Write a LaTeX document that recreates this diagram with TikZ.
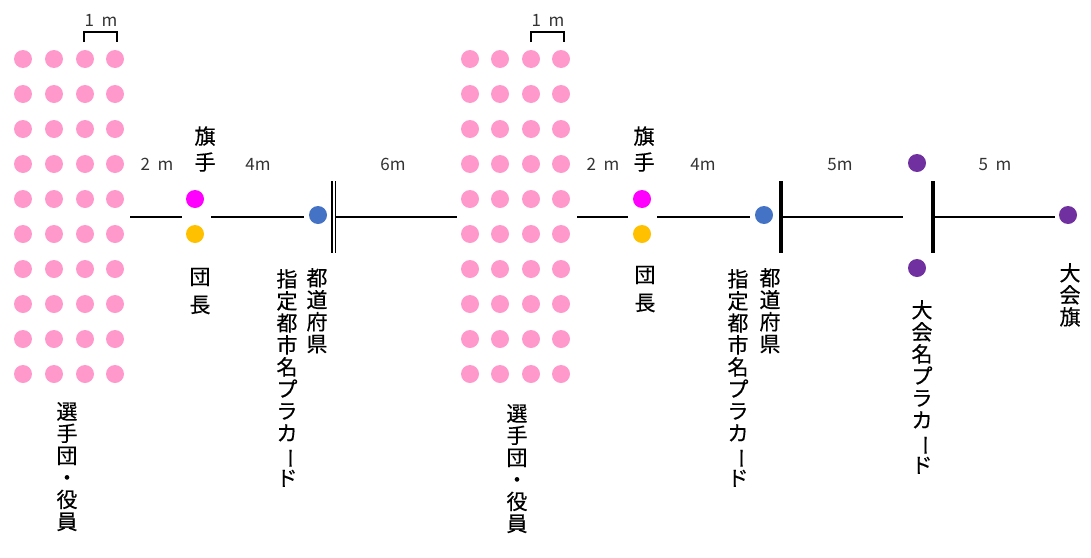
\documentclass[tikz,border=0pt]{standalone}
\usepackage{fontspec}
\setmainfont{Noto Sans CJK JP}
\newfontfamily\jpfont{Noto Sans CJK JP}[FakeBold=0.4]
\usepackage{graphicx}
\definecolor{pinkdot}{HTML}{FF99CC}
\definecolor{magdot}{HTML}{FF00FF}
\definecolor{orgdot}{HTML}{FFC000}
\definecolor{bluedot}{HTML}{4472C4}
\definecolor{purpdot}{HTML}{7030A0}
\definecolor{numgray}{HTML}{333333}
\newcommand{\vbar}{\rotatebox[origin=c]{-90}{ー}}
\tikzset{
  dot/.style={circle, fill=#1, draw=none, minimum size=18pt, inner sep=0pt},
  vtext/.style={anchor=north, align=center, inner sep=0pt, font=\jpfont\fontsize{21}{22}\selectfont},
  jlabel/.style={align=center, inner sep=0pt},
  numlabel/.style={inner sep=0pt, text=numgray, font=\fontsize{17}{20}\selectfont},
  axis/.style={line width=2.3pt, black},
  thinbar/.style={line width=1.4pt, black},
  thickbar/.style={line width=4pt, black},
  bracket/.style={line width=1.1pt, black}
}
\newcommand{\msp}{\hspace{0.45em}}
\begin{document}
\begin{tikzpicture}[x=1pt, y=-1pt]
\useasboundingbox (0,0) rectangle (1091,557);

% player groups
\foreach \r in {0,...,9}{
  \foreach \c/\x in {1/23,2/54,3/85,4/115}{
    \node[dot=pinkdot] (ga-\r-\c) at (\x, 59+35*\r) {};
  }
  \foreach \c/\x in {1/470,2/500,3/531,4/561}{
    \node[dot=pinkdot] (gb-\r-\c) at (\x, 59+35*\r) {};
  }
}

% 1 m brackets
\coordinate (ba1) at (84,42); \coordinate (ba2) at (84,32);
\coordinate (ba3) at (117,32); \coordinate (ba4) at (117,42);
\draw[bracket] (ba1) -- (ba2) -- (ba3) -- (ba4);
\node[numlabel] (ma) at (101,20) {1\msp m};
\coordinate (bb1) at (531,42); \coordinate (bb2) at (531,32);
\coordinate (bb3) at (564,32); \coordinate (bb4) at (564,42);
\draw[bracket] (bb1) -- (bb2) -- (bb3) -- (bb4);
\node[numlabel] (mb) at (548,20) {1\msp m};

% flag bearers and leaders
\node[dot=magdot] (flaga) at (195,199) {};
\node[dot=orgdot] (leada) at (195,234) {};
\node[dot=magdot] (flagb) at (642,199) {};
\node[dot=orgdot] (leadb) at (642,234) {};
\node[dot=bluedot] (placa) at (318,215) {};
\node[dot=bluedot] (placb) at (764,215) {};
\node[dot=purpdot] (tpa) at (917,163) {};
\node[dot=purpdot] (tpb) at (917,268) {};
\node[dot=purpdot] (tflag) at (1068,215) {};

% line segments
\coordinate (a1) at (130,217); \coordinate (a2) at (182,217);
\coordinate (a3) at (211,217); \coordinate (a4) at (304,217);
\coordinate (a5) at (336,217); \coordinate (a6) at (457,217);
\coordinate (b1) at (577,217); \coordinate (b2) at (628,217);
\coordinate (b3) at (657,217); \coordinate (b4) at (750,217);
\coordinate (b5) at (781,217); \coordinate (b6) at (903,217);
\coordinate (b7) at (933,217); \coordinate (b8) at (1055,217);
\draw[axis] (a1) -- (a2);
\draw[axis] (a3) -- (a4);
\draw[axis] (a5) -- (a6);
\draw[axis] (b1) -- (b2);
\draw[axis] (b3) -- (b4);
\draw[axis] (b5) -- (b6);
\draw[axis] (b7) -- (b8);

% bars
\coordinate (da1) at (332,181); \coordinate (da2) at (332,253);
\coordinate (db1) at (335.5,181); \coordinate (db2) at (335.5,253);
\draw[thinbar] (da1) -- (da2);
\draw[thinbar] (db1) -- (db2);
\coordinate (ta1) at (780.5,181); \coordinate (ta2) at (780.5,253);
\coordinate (tb1) at (933,181); \coordinate (tb2) at (933,253);
\draw[thickbar] (ta1) -- (ta2);
\draw[thickbar] (tb1) -- (tb2);

% distance labels
\node[numlabel] (d1) at (157,164) {2\msp m};
\node[numlabel] (d2) at (258,164) {4m};
\node[numlabel] (d3) at (393,164) {6m};
\node[numlabel] (d4) at (603,164) {2\msp m};
\node[numlabel] (d5) at (703,164) {4m};
\node[numlabel] (d6) at (840,165) {5m};
\node[numlabel] (d7) at (995,165) {5\msp m};

% Japanese labels
\node[jlabel, font=\jpfont\fontsize{21}{26}\selectfont] (fla) at (205,149) {旗\\手};
\node[jlabel, font=\jpfont\fontsize{21}{26}\selectfont] (flb) at (644,149) {旗\\手};
\node[jlabel, font=\jpfont\fontsize{21}{28}\selectfont] (lla) at (200,291) {団\\長};
\node[jlabel, font=\jpfont\fontsize{21}{28}\selectfont] (llb) at (645,289) {団\\長};

\node[vtext] (sa) at (67,402) {選\\手\\団\\・\\役\\員};
\node[vtext] (sb) at (517,404) {選\\手\\団\\・\\役\\員};

\node[vtext] (pa1) at (317,268) {都\\道\\府\\県};
\node[vtext] (pa2) at (287,269) {指\\定\\都\\市\\名\\プ\\ラ\\カ\\\vbar\\ド};
\node[vtext] (pb1) at (770,268) {都\\道\\府\\県};
\node[vtext] (pb2) at (738,269) {指\\定\\都\\市\\名\\プ\\ラ\\カ\\\vbar\\ド};

\node[vtext] (tn) at (922,300) {大\\会\\名\\プ\\ラ\\カ\\\vbar\\ド};
\node[vtext] (tf) at (1070,263) {大\\会\\旗};
\end{tikzpicture}
\end{document}
